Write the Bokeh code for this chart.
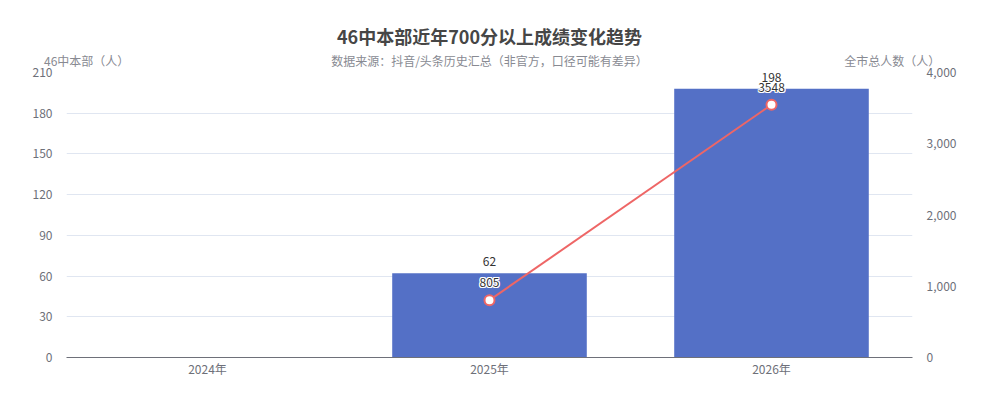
import numpy as np
from bokeh.plotting import figure
from bokeh.models import (Range1d, LinearAxis, CategoricalAxis, NumeralTickFormatter, Legend,
                          FactorRange, LegendItem, ColumnDataSource, FixedTicker)
from bokeh.core.properties import value
from bokeh.embed import file_html
from bokeh.resources import INLINE

years = ["2024年", "2025年", "2026年"]
school_count = [np.nan, 62, 198]
city_total = [np.nan, 805, 3548]
left_ticks = [0, 30, 60, 90, 120, 150, 180, 210]
right_ticks = [0, 1000, 2000, 3000, 4000]

title = "46中本部近年700分以上成绩变化趋势"
subtitle = "数据来源：抖音/头条历史汇总（非官方，口径可能有差异）"
left_name = "46中本部（人）"
right_name = "全市总人数（人）"
bar_name = "700分以上人数"
line_name = "全市700分以上总人数"

FONT = "Noto Sans CJK SC"

# header row slots: axis names near the frame edges, subtitle in the middle
blank_slots = [" " * (i + 1) for i in range(18)]
head_factors = ([left_name] + blank_slots[:9] + [subtitle] + blank_slots[9:] + [right_name])

p = figure(x_range=years, y_range=Range1d(0, 210), frame_width=846, frame_height=285,
           output_backend="svg", toolbar_location=None,
           min_border_left=66, min_border_right=54, min_border_top=72, min_border_bottom=10)
p.extra_y_ranges = {"right": Range1d(0, 4000)}
p.extra_x_ranges = {"head": FactorRange(factors=head_factors)}
p.outline_line_color = None
p.background_fill_color = "white"

p.title.text = title
p.title.align = "center"
p.title.text_font = FONT
p.title.text_font_size = "18px"
p.title.text_font_style = "bold"
p.title.text_color = "#464646"
p.title.standoff = 0

src = ColumnDataSource(dict(x=years, bar=school_count, city=city_total,
                            bar_lbl=["" if np.isnan(v) else str(int(v)) for v in school_count],
                            city_lbl=["" if np.isnan(v) else str(int(v)) for v in city_total]))

bars = p.vbar(x="x", top="bar", width=0.69, source=src, fill_color="#5470c6", line_color=None)
p.text(x="x", y="bar", text="bar_lbl", source=src, text_align="center", text_baseline="bottom",
       y_offset=-7, text_font=value(FONT), text_font_size="12px", text_color="#333333")

line = p.line(x="x", y="city", source=src, y_range_name="right", line_color="#ee6666", line_width=2)
pts = p.scatter(x="x", y="city", source=src, y_range_name="right", size=10, fill_color="white",
                line_color="#ee6666", line_width=2)
for dx, dy in [(-1, 0), (1, 0), (0, -1), (0, 1), (-1, -1), (1, 1), (-1, 1), (1, -1)]:
    p.text(x="x", y="city", text="city_lbl", source=src, y_range_name="right", text_align="center",
           text_baseline="bottom", x_offset=dx, y_offset=-13 + dy, text_font=value(FONT),
           text_font_size="12px", text_color="white")
p.text(x="x", y="city", text="city_lbl", source=src, y_range_name="right", text_align="center",
       text_baseline="bottom", y_offset=-13, text_font=value(FONT), text_font_size="12px",
       text_color="#333333")


def style_axis(ax, color="#6e7079", standoff=8):
    ax.axis_line_color = None
    ax.major_tick_line_color = None
    ax.minor_tick_line_color = None
    ax.major_label_text_font = FONT
    ax.major_label_text_font_size = "12px"
    ax.major_label_text_color = color
    ax.major_label_standoff = standoff


p.yaxis.ticker = FixedTicker(ticks=left_ticks)
style_axis(p.yaxis[0])

ra = LinearAxis(y_range_name="right", ticker=FixedTicker(ticks=right_ticks),
                formatter=NumeralTickFormatter(format="0,0"))
style_axis(ra)
p.add_layout(ra, "right")

xa = p.xaxis[0]
style_axis(xa, standoff=-4)
xa.axis_line_color = "#6e7079"
xa.axis_line_width = 1

head_ax = CategoricalAxis(x_range_name="head")
style_axis(head_ax, color="#888a92", standoff=-2)
p.add_layout(head_ax, "above")

p.xgrid.grid_line_color = None
p.ygrid.grid_line_color = "#e0e6f1"
p.ygrid.ticker = FixedTicker(ticks=left_ticks)

legend = Legend(items=[LegendItem(label=bar_name, renderers=[bars]),
                       LegendItem(label=line_name, renderers=[line, pts])],
                orientation="horizontal", location="top_center",
                glyph_width=25, glyph_height=14, padding=0, spacing=10, margin=8,
                label_text_font=FONT, label_text_font_size="12px", label_text_color="#333333",
                label_standoff=5, border_line_color=None, background_fill_alpha=0)
p.add_layout(legend, "below")

open("out.html", "w").write(file_html(p, INLINE))
